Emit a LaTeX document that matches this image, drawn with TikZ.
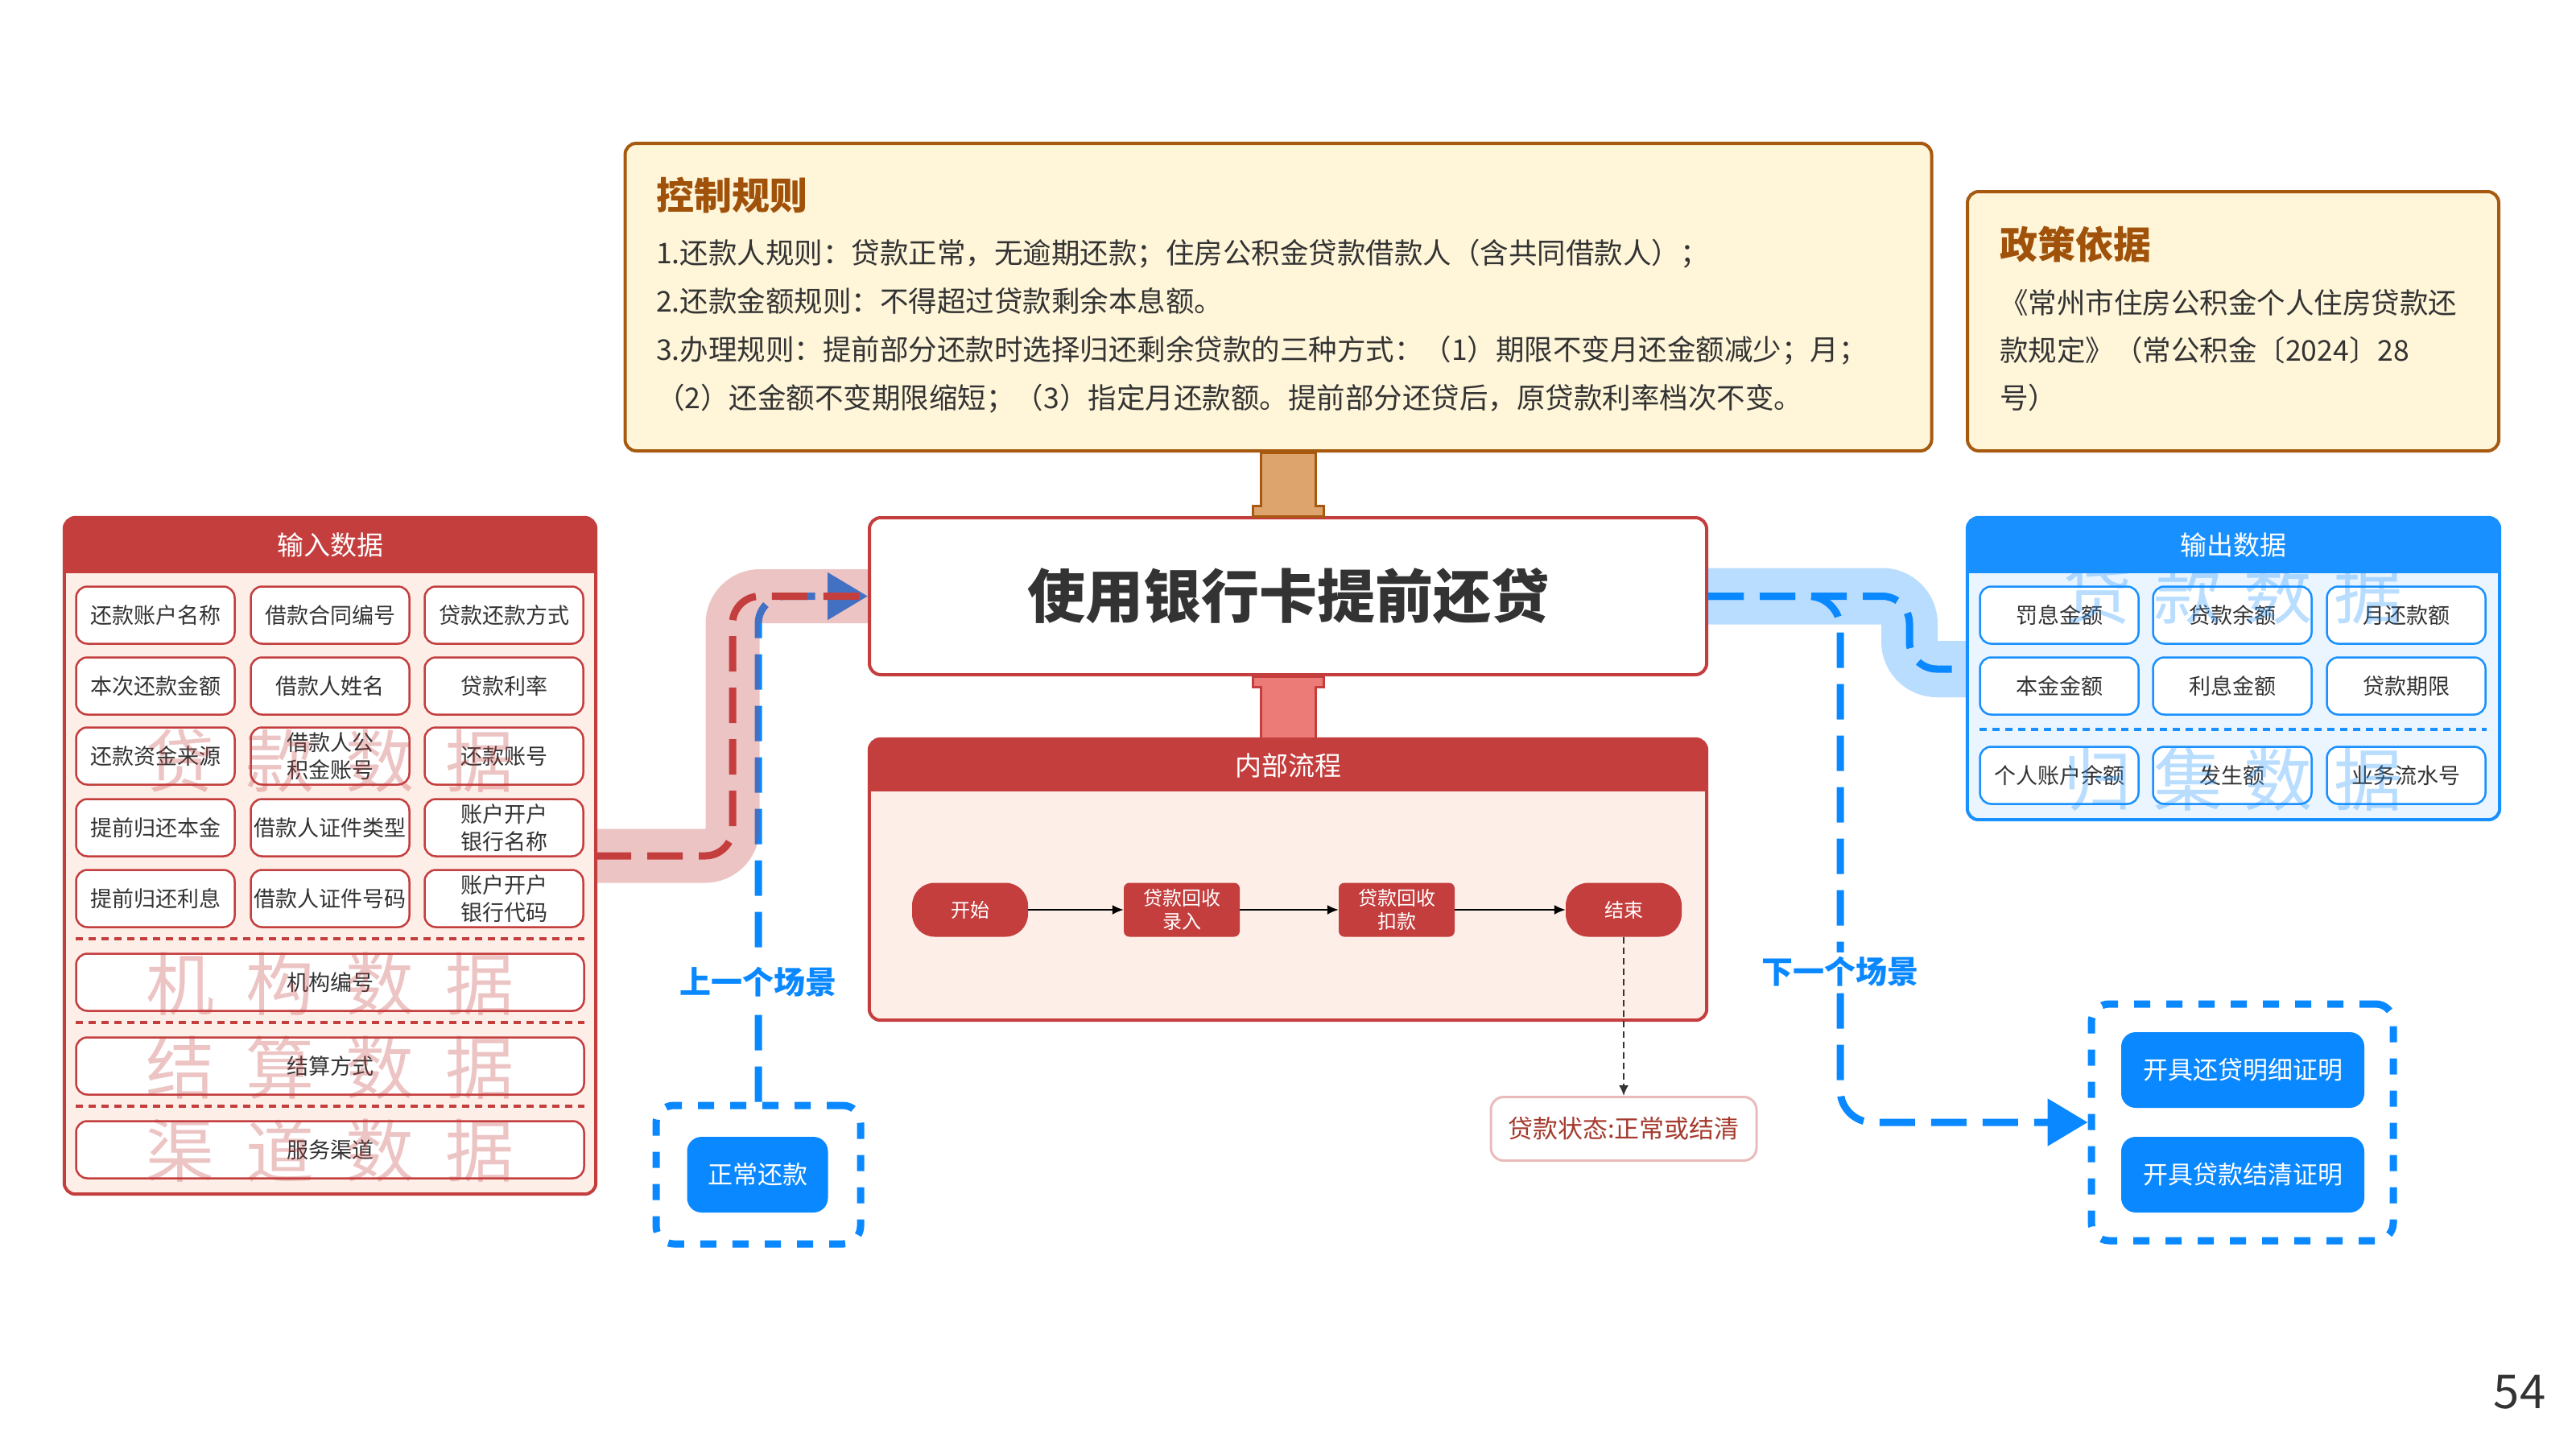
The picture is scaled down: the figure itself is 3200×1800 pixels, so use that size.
\documentclass[tikz,border=0pt]{standalone}
\usepackage{fontspec}
\setmainfont{Noto Sans CJK SC}
\usetikzlibrary{arrows.meta,calc}
\definecolor{cRed}{HTML}{C43E3E}
\definecolor{cPinkBg}{HTML}{FDEEE8}
\definecolor{cBlue}{HTML}{0A88FF}
\definecolor{cBlueHdr}{HTML}{1890FF}
\definecolor{cBlueBg}{HTML}{EAF5FF}
\definecolor{cBrown}{HTML}{A65A10}
\definecolor{cBrownTxt}{HTML}{A0520A}
\definecolor{cCream}{HTML}{FFF6DA}
\definecolor{cTan}{HTML}{DDA46E}
\definecolor{cSalmon}{HTML}{EC7B78}
\definecolor{cTxt}{HTML}{333333}
\definecolor{cStatus}{HTML}{A53A2E}
\newcommand\fsz[2]{\fontsize{#1}{#2}\selectfont}
\begin{document}
\begin{tikzpicture}[x=1pt,y=-1pt,
  ibox/.style={draw=cRed, line width=2.5pt, fill=white, rounded corners=14pt, minimum width=197pt, minimum height=71pt, inner sep=0pt, align=center, text=cTxt, font=\fsz{27}{34}},
  obox/.style={ibox, draw=cBlueHdr},
  wbox/.style={ibox, minimum width=631pt},
  wmr/.style={text=cRed, text opacity=0.3, font=\fsz{85}{85}, inner sep=0pt},
  wmb/.style={text=cBlueHdr, text opacity=0.3, font=\fsz{85}{85}, inner sep=0pt},
  hdrtxt/.style={text=white, font=\fsz{33}{33}, inner sep=0pt},
  bodytxt/.style={anchor=west, inner sep=0pt, text=cTxt, font=\fsz{35.5}{35.5}},
  ttl/.style={anchor=west, inner sep=0pt, text=cBrownTxt, font=\bfseries\fsz{47}{47}},
  flowr/.style={fill=cRed, text=white, minimum width=144pt, minimum height=67pt, inner sep=0pt, align=center, font=\fsz{24}{29}},
  farrow/.style={-{Latex[length=14pt,width=12pt]}, line width=2pt, black},
  sdash/.style={draw=cBlue, line width=9pt, dash pattern=on 20pt off 20pt, rounded corners=22pt, inner sep=0pt},
  sbtn/.style={fill=cBlue, text=white, rounded corners=18pt, inner sep=0pt, minimum height=94pt, font=\fsz{31}{31}},
  flowline/.style={line width=9pt, dash pattern=on 44pt off 20pt, rounded corners=34pt},
  scen/.style={fill=white, text=cBlue, font=\bfseries\fsz{39}{39}, inner sep=5pt},
  stub/.style={line width=3pt}
]
\useasboundingbox (0,0) rectangle (3200,1800);
\fill[white] (0,0) rectangle (3200,1800);

% ---------- control rules ----------
\node[draw=cBrown, line width=4pt, fill=cCream, rounded corners=14pt, minimum width=1623pt, minimum height=382pt, inner sep=0pt] (ctrl) at (1588,369) {};
\node[ttl] (ct0) at (815,243) {控制规则};
\node[bodytxt] (ct1) at (815,315) {1.还款人规则：贷款正常，无逾期还款；住房公积金贷款借款人（含共同借款人）；};
\node[bodytxt] (ct2) at (815,374) {2.还款金额规则：不得超过贷款剩余本息额。};
\node[bodytxt] (ct3) at (815,435) {3.办理规则：提前部分还款时选择归还剩余贷款的三种方式：（1）期限不变月还金额减少；月；};
\node[bodytxt] (ct4) at (815,495) {（2）还金额不变期限缩短；（3）指定月还款额。提前部分还贷后，原贷款利率档次不变。};

% ---------- policy ----------
\node[draw=cBrown, line width=4pt, fill=cCream, rounded corners=14pt, minimum width=660pt, minimum height=322pt, inner sep=0pt] (pol) at (2774,399) {};
\node[ttl] (pt0) at (2484,304) {政策依据};
\node[bodytxt] (pt1) at (2484,376) {《常州市住房公积金个人住房贷款还};
\node[bodytxt] (pt2) at (2484,435) {款规定》（常公积金〔2024〕28};
\node[bodytxt] (pt3) at (2484,494) {号）};

% ---------- input panel ----------
\node[fill=cPinkBg, rounded corners=14pt, minimum width=660pt, minimum height=840pt, inner sep=0pt] (inp) at (410,1063) {};
\node[ibox] (i11) at (193,764) {还款账户名称};
\node[ibox] (i12) at (410,764) {借款合同编号};
\node[ibox] (i13) at (626,764) {贷款还款方式};
\node[ibox] (i21) at (193,852) {本次还款金额};
\node[ibox] (i22) at (410,852) {借款人姓名};
\node[ibox] (i23) at (626,852) {贷款利率};
\node[ibox] (i31) at (193,939) {还款资金来源};
\node[ibox] (i32) at (410,939) {借款人公\\积金账号};
\node[ibox] (i33) at (626,939) {还款账号};
\node[ibox] (i41) at (193,1028) {提前归还本金};
\node[ibox] (i42) at (410,1028) {借款人证件类型};
\node[ibox] (i43) at (626,1028) {账户开户\\银行名称};
\node[ibox] (i51) at (193,1116) {提前归还利息};
\node[ibox] (i52) at (410,1116) {借款人证件号码};
\node[ibox] (i53) at (626,1116) {账户开户\\银行代码};
\node[wbox] (iw1) at (410,1220) {机构编号};
\node[wbox] (iw2) at (410,1324) {结算方式};
\node[wbox] (iw3) at (410,1428) {服务渠道};
\foreach \yy in {1166,1270,1374}
  \draw[cRed, line width=4pt, dash pattern=on 9pt off 7pt] (94,\yy) -- (726,\yy);
\foreach \c [count=\i] in {贷,款,数,据}
  \node[wmr] (wa\i) at ({224+(\i-1)*124},945) {\c};
\foreach \c [count=\i] in {机,构,数,据}
  \node[wmr] (wb\i) at ({224+(\i-1)*124},1222) {\c};
\foreach \c [count=\i] in {结,算,数,据}
  \node[wmr] (wc\i) at ({224+(\i-1)*124},1326) {\c};
\foreach \c [count=\i] in {渠,道,数,据}
  \node[wmr] (wd\i) at ({224+(\i-1)*124},1429) {\c};
\begin{scope}
  \clip (inp.north west) rectangle ($(inp.north east)+(0,69)$);
  \fill[cRed, rounded corners=14pt] (inp.north west) rectangle (inp.south east);
\end{scope}
\draw[cRed, line width=4pt, rounded corners=14pt] (inp.north west) rectangle (inp.south east);
\node[hdrtxt] (inpH) at ($(inp.north)+(0,34)$) {输入数据};

% ---------- output panel ----------
\node[fill=cBlueBg, rounded corners=14pt, minimum width=661pt, minimum height=375pt, inner sep=0pt] (out) at (2774.5,830.5) {};
\node[obox] (o11) at (2558,764) {罚息金额};
\node[obox] (o12) at (2773,764) {贷款余额};
\node[obox] (o13) at (2989,764) {月还款额};
\node[obox] (o21) at (2558,852) {本金金额};
\node[obox] (o22) at (2773,852) {利息金额};
\node[obox] (o23) at (2989,852) {贷款期限};
\node[obox] (o31) at (2558,963) {个人账户余额};
\node[obox] (o32) at (2773,963) {发生额};
\node[obox] (o33) at (2989,963) {业务流水号};
\draw[cBlueHdr, line width=4pt, dash pattern=on 9pt off 7pt] (2459,906) -- (3089,906);
\foreach \c [count=\i] in {贷,款,数,据}
  \node[wmb] (we\i) at ({2606+(\i-1)*112},736) {\c};
\foreach \c [count=\i] in {归,集,数,据}
  \node[wmb] (wf\i) at ({2606+(\i-1)*112},968) {\c};
\begin{scope}
  \clip (out.north west) rectangle ($(out.north east)+(0,69)$);
  \fill[cBlueHdr, rounded corners=14pt] (out.north west) rectangle (out.south east);
\end{scope}
\draw[cBlueHdr, line width=4pt, rounded corners=14pt] (out.north west) rectangle (out.south east);
\node[hdrtxt] (outH) at ($(out.north)+(0,34)$) {输出数据};

% ---------- main box ----------
\node[draw=cRed, line width=4pt, fill=white, rounded corners=14pt, minimum width=1040pt, minimum height=195pt, inner sep=0pt, text=cTxt, font=\bfseries\fsz{72}{72}] (main) at (1600,740.5) {使用银行卡提前还贷};

% ---------- internal process ----------
\node[fill=cPinkBg, rounded corners=14pt, minimum width=1040pt, minimum height=349pt, inner sep=0pt] (proc) at (1600,1092.5) {};
\begin{scope}
  \clip (proc.north west) rectangle ($(proc.north east)+(0,65)$);
  \fill[cRed, rounded corners=14pt] (proc.north west) rectangle (proc.south east);
\end{scope}
\draw[cRed, line width=4pt, rounded corners=14pt] (proc.north west) rectangle (proc.south east);
\node[hdrtxt] (procH) at ($(proc.north)+(0,33)$) {内部流程};

\node[flowr, rounded corners=28pt] (f0) at (1205,1130) {开始};
\node[flowr, rounded corners=7pt] (f1) at (1468,1130) {贷款回收\\录入};
\node[flowr, rounded corners=7pt] (f2) at (1735,1130) {贷款回收\\扣款};
\node[flowr, rounded corners=28pt] (f3) at (2017,1130) {结束};
\draw[farrow] (f0) -- (f1);
\draw[farrow] (f1) -- (f2);
\draw[farrow] (f2) -- (f3);
\node[fill=white, draw=cRed!35, line width=3pt, rounded corners=16pt, minimum width=330pt, minimum height=79pt, inner sep=0pt, text=cStatus, font=\fsz{31}{31}] (status) at (2017,1402) {贷款状态:正常或结清};
\draw[cTxt, line width=2pt, dash pattern=on 8pt off 5pt, -{Latex[length=13pt,width=12pt]}] (f3.south) -- (f3.south |- status.north);

% ---------- stubs ----------
\coordinate (oT) at (ctrl.south -| main.north);
\draw[stub, fill=cTan, draw=cBrown] ($(oT)+(-34,0)$) -- ($(main.north)+(-34,-13)$) -- ($(main.north)+(-44,-13)$) -- ($(main.north)+(-44,0)$) -- ($(main.north)+(44,0)$) -- ($(main.north)+(44,-13)$) -- ($(main.north)+(34,-13)$) -- ($(oT)+(34,0)$) -- cycle;
\coordinate (rT) at (proc.north -| main.south);
\draw[stub, fill=cSalmon, draw=cRed] ($(rT)+(-34,0)$) -- ($(main.south)+(-34,13)$) -- ($(main.south)+(-44,13)$) -- ($(main.south)+(-44,0)$) -- ($(main.south)+(44,0)$) -- ($(main.south)+(44,13)$) -- ($(main.south)+(34,13)$) -- ($(rT)+(34,0)$) -- cycle;

% ---------- scenario boxes ----------
\node[sdash, minimum width=254pt, minimum height=172pt] (prevB) at (942,1459) {};
\node[sbtn, minimum width=175pt] (prevN) at (941,1459) {正常还款};
\node[sdash, minimum width=375pt, minimum height=294pt] (nextB) at (2785.5,1394) {};
\node[sbtn, minimum width=302pt] (nextN1) at (2786,1329) {开具还贷明细证明};
\node[sbtn, minimum width=302pt] (nextN2) at (2786,1459) {开具贷款结清证明};

% ---------- left connectors ----------
\draw[flowline, cBlue, -{Triangle[length=50pt,width=57pt]}] (prevB.north) -- (prevB.north |- main.west) -- (main.west);
\coordinate (rc) at (910,1063);
\draw[line width=67pt, draw=cRed, draw opacity=0.3, rounded corners=34pt] (inp.east) -- (rc) -- (rc |- main.west) -- (main.west);
\draw[flowline, cRed] (inp.east) -- (rc) -- (rc |- main.west) -- ($(main.west)+(-2,0)$);
\node[scen] (prevL) at (942,1220) {上一个场景};

% ---------- right connectors ----------
\coordinate (oc) at (2372,831);
\draw[line width=70pt, draw=cBlueHdr, draw opacity=0.3, rounded corners=34pt] (main.east) -- (main.east -| oc) -- (oc) -- (oc -| out.west);
\draw[flowline, cBlue] (main.east) -- (main.east -| oc) -- (oc) -- (oc -| out.west);
\coordinate (nc) at (2286,1207);
\draw[flowline, cBlue, rounded corners=40pt, -{Triangle[length=50pt,width=57pt]}] (main.east) -- (main.east -| nc) -- (nc |- nextB.west) -- (nextB.west);
\node[scen] (nextL) at (nc) {下一个场景};

% ---------- page number ----------
\node[text=cTxt, font=\fsz{58}{58}, inner sep=0pt] (pg) at (3130,1729) {54};
\end{tikzpicture}
\end{document}
